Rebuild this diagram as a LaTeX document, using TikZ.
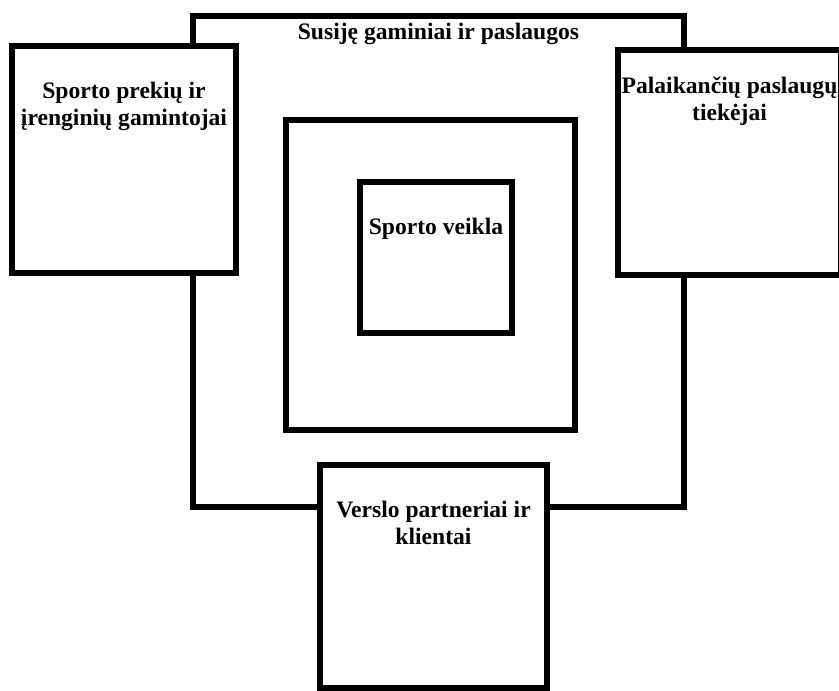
\documentclass[tikz,border=0pt]{standalone}
\usepackage{fontspec}
\setmainfont{Liberation Serif}
\usepackage{tikz}
\usetikzlibrary{positioning}
\tikzstyle{frame} = [rectangle, draw=black, line width=4.3pt, fill=white, inner sep=0pt]
\tikzstyle{lbl} = [inner sep=0pt, align=center, font=\fontsize{17.7}{20.6}\selectfont\bfseries]

\begin{document}
\begin{tikzpicture}[x=0.75pt, y=-0.75pt]
	\useasboundingbox (0,0) rectangle (839,691);
	
	\node (related) [frame, minimum width=368.25pt, minimum height=368.25pt] at (438.5,261.5) {};
	\node (middle) [frame, minimum width=216.75pt, minimum height=232.5pt] at (430.5,275) {};
	\node (core) [frame, minimum width=114pt, minimum height=113.25pt] at (436,257.5) {};
	\node (makers) [frame, minimum width=168pt, minimum height=170.25pt] at (124,159.5) {};
	\node (suppliers) [frame, minimum width=167.25pt, minimum height=168.75pt] at (729.5,162.5) {};
	\node (partners) [frame, minimum width=170.25pt, minimum height=167.25pt] at (433.5,576.5) {};
	
	% texts
	\node (relatedtext) [lbl, below=7.5pt of related.north] {Susiję gaminiai ir paslaugos};
	\node (coretext) [lbl, below=29pt of core.north] {Sporto veikla};
	\node (makerstext) [lbl, below=29pt of makers.north] {Sporto prekių ir\\įrenginių gamintojai};
	\node (supplierstext) [lbl, below=22pt of suppliers.north] {Palaikančių paslaugų\\tiekėjai};
	\node (partnerstext) [lbl, below=29pt of partners.north] {Verslo partneriai ir\\klientai};
	
\end{tikzpicture}
\end{document}
